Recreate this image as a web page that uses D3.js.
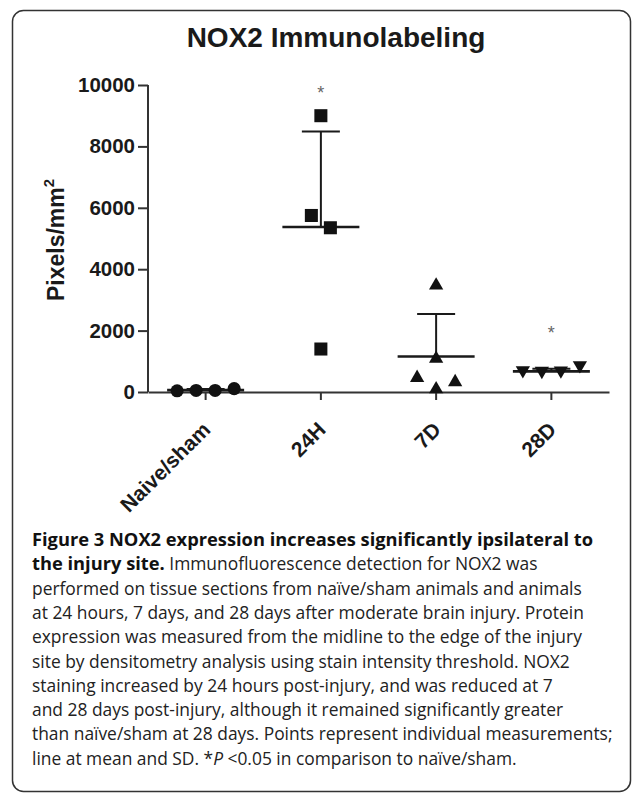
<!DOCTYPE html>
<html>
<head>
<meta charset="utf-8">
<script src="https://cdn.jsdelivr.net/npm/d3@7"></script>
<style>
body { margin: 0; background: #fff; }
svg { display: block; }
</style>
</head>
<body>
<svg id="canvas"></svg>
<script>
let groups = ["Naive/sham", "24H", "7D", "28D"];
let naiveValues = [40, 50, 50, 110];
let h24Values = [9000, 5750, 5350, 1400];
let d7Values = [3540, 1150, 530, 390, 160];
let d28Values = [640, 620, 630, 800];
// where each point sits left/right of its group centre (GraphPad scatter)
let naiveSlots = [-1.5, -0.5, 0.5, 1.5];
let h24Slots = [0, -0.5, 0.5, 0];
let d7Slots = [0, 0, -1, 1, 0];
let d28Slots = [-1.5, -0.5, 0.5, 1.5];
let yTicks = [0, 2000, 4000, 6000, 8000, 10000];
let stars = ["", "*", "", "*"];
let starLevel = [null, 9870, null, 2050];

let captionLines = [
  [["b", "Figure 3 NOX2 expression increases significantly ipsilateral to"]],
  [["b", "the injury site."], ["r", " Immunofluorescence detection for NOX2 was"]],
  [["r", "performed on tissue sections from naïve/sham animals and animals"]],
  [["r", "at 24 hours, 7 days, and 28 days after moderate brain injury. Protein"]],
  [["r", "expression was measured from the midline to the edge of the injury"]],
  [["r", "site by densitometry analysis using stain intensity threshold. NOX2"]],
  [["r", "staining increased by 24 hours post-injury, and was reduced at 7"]],
  [["r", "and 28 days post-injury, although it remained significantly greater"]],
  [["r", "than naïve/sham at 28 days. Points represent individual measurements;"]],
  [["r", "line at mean and SD. *"], ["i", "P"], ["r", " <0.05 in comparison to naïve/sham."]]
];

let width = 633, height = 796;
let plot = {left: 148, right: 609, top: 85, bottom: 392};
let chartFont = "'Liberation Sans', Arial, sans-serif";
let ink = "#1a1a1a";

let series = [
  {name: groups[0], values: naiveValues, slots: naiveSlots, shape: "circle"},
  {name: groups[1], values: h24Values, slots: h24Slots, shape: "square"},
  {name: groups[2], values: d7Values, slots: d7Slots, shape: "up"},
  {name: groups[3], values: d28Values, slots: d28Slots, shape: "down"}
];

let svg = d3.select("#canvas")
  .attr("width", width)
  .attr("height", height);

// rounded frame
svg.append("rect")
  .attr("x", 12.5).attr("y", 10.5)
  .attr("width", 618).attr("height", 781)
  .attr("rx", 11)
  .attr("fill", "none")
  .attr("stroke", "#333")
  .attr("stroke-width", 1.5);

svg.append("text")
  .attr("x", 336).attr("y", 47)
  .attr("text-anchor", "middle")
  .style("font-family", chartFont)
  .style("font-weight", "bold")
  .style("font-size", "28px")
  .attr("fill", ink)
  .text("NOX2 Immunolabeling");

let x = d3.scaleBand()
  .domain(groups)
  .range([plot.left, plot.right]);

let y = d3.scaleLinear()
  .domain([0, 10000])
  .range([plot.bottom, plot.top]);

let slotWidth = x.bandwidth() * 0.165;

// y axis
let yAxis = svg.append("g")
  .attr("transform", "translate(" + plot.left + ",0)")
  .call(d3.axisLeft(y).tickValues(yTicks).tickSize(10).tickPadding(3).tickFormat(d3.format("d")));

// x axis
let xAxis = svg.append("g")
  .attr("transform", "translate(0," + plot.bottom + ")")
  .call(d3.axisBottom(x).tickSize(8).tickSizeOuter(0));

[yAxis, xAxis].forEach(function(ax) {
  ax.select(".domain").attr("stroke", "#333").attr("stroke-width", 2);
  ax.selectAll(".tick line").attr("stroke", "#333").attr("stroke-width", 2);
  ax.selectAll("text")
    .style("font-family", chartFont)
    .style("font-weight", "bold")
    .style("font-size", "20.5px")
    .attr("fill", ink);
});
yAxis.select(".domain").attr("d", "M0," + plot.top + "V" + plot.bottom);

xAxis.selectAll(".tick text")
  .style("font-size", "21px")
  .attr("text-anchor", "end")
  .attr("dy", null)
  .attr("y", 0)
  .attr("transform", "translate(6,39) rotate(-45)");

// y axis title with superscript
let yTitle = svg.append("text")
  .attr("transform", "translate(64,240) rotate(-90)")
  .attr("text-anchor", "middle")
  .style("font-family", chartFont)
  .style("font-weight", "bold")
  .style("font-size", "23px")
  .attr("fill", ink);
yTitle.append("tspan").text("Pixels/mm");
yTitle.append("tspan").attr("dy", -10).style("font-size", "15px").text("2");

// mean and SD
let stats = series.map(function(s) {
  return {name: s.name, mean: d3.mean(s.values), sd: d3.deviation(s.values)};
});

let bars = svg.append("g");
stats.forEach(function(d) {
  let cx = x(d.name) + x.bandwidth() / 2;
  bars.append("line")
    .attr("x1", cx).attr("x2", cx)
    .attr("y1", y(d.mean)).attr("y2", y(d.mean + d.sd))
    .attr("stroke", ink).attr("stroke-width", 2);
  bars.append("line")
    .attr("x1", cx - 19).attr("x2", cx + 19)
    .attr("y1", y(d.mean + d.sd)).attr("y2", y(d.mean + d.sd))
    .attr("stroke", ink).attr("stroke-width", 2);
  bars.append("line")
    .attr("x1", cx - 38.5).attr("x2", cx + 38.5)
    .attr("y1", y(d.mean)).attr("y2", y(d.mean))
    .attr("stroke", ink).attr("stroke-width", 2.6);
});

// points
let shapes = {
  circle: d3.symbol().type(d3.symbolCircle).size(135)(),
  square: d3.symbol().type(d3.symbolSquare).size(170)(),
  up: d3.symbol().type(d3.symbolTriangle).size(88)(),
  down: d3.symbol().type(d3.symbolTriangle).size(88)()
};
let triShift = Math.sqrt(88 / (3 * Math.sqrt(3))) / 2;

let points = svg.append("g");
series.forEach(function(s) {
  points.selectAll(null)
    .data(s.values)
    .enter()
    .append("path")
    .attr("d", shapes[s.shape])
    .attr("fill", "#111")
    .attr("transform", function(v, i) {
      let px = x(s.name) + x.bandwidth() / 2 + s.slots[i] * slotWidth;
      let py = y(v);
      if (s.shape == "up") return "translate(" + px + "," + (py + triShift) + ")";
      if (s.shape == "down") return "translate(" + px + "," + (py - triShift) + ") rotate(180)";
      return "translate(" + px + "," + py + ")";
    });
});

// significance stars
groups.forEach(function(g, i) {
  if (!stars[i]) return;
  svg.append("text")
    .attr("x", x(g) + x.bandwidth() / 2)
    .attr("y", y(starLevel[i]) + 10)
    .attr("text-anchor", "middle")
    .style("font-family", chartFont)
    .style("font-size", "18px")
    .attr("fill", "#666")
    .text(stars[i]);
});

// figure caption: bold lead-in slightly larger than the body text
let caption = svg.append("g")
  .style("font-family", "'Open Sans', 'Noto Sans', sans-serif")
  .style("font-size", "17.4px");

captionLines.forEach(function(parts, i) {
  let t = caption.append("text")
    .attr("x", 32)
    .attr("y", 546 + i * 24.3)
    .attr("fill", "#222");
  parts.forEach(function(p) {
    let sp = t.append("tspan").text(p[1]);
    if (p[0] == "b") sp.style("font-weight", "bold").style("font-size", "18.3px").attr("fill", "#111");
    if (p[0] == "i") sp.style("font-style", "italic");
  });
});
</script>
</body>
</html>
